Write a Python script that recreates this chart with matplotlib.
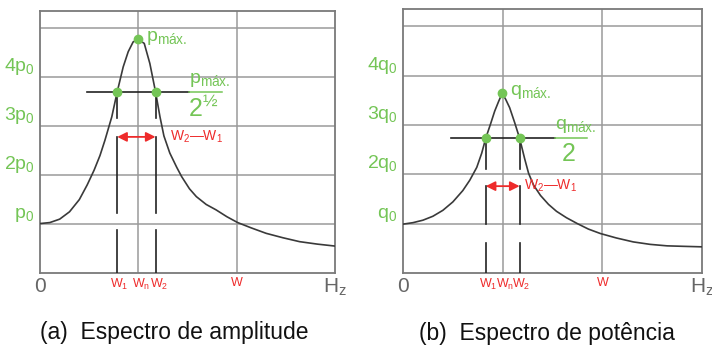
import matplotlib.pyplot as plt

plt.rcParams['font.family'] = ['Liberation Sans', 'DejaVu Sans']
plt.rcParams['mathtext.fontset'] = 'custom'
plt.rcParams['mathtext.rm'] = 'Liberation Sans'
plt.rcParams['mathtext.it'] = 'Liberation Sans'

# curve readings (x in grid units, y in multiples of p0 / q0)
amp_x = [0, 0.10, 0.20, 0.30, 0.40, 0.48, 0.55, 0.61, 0.66, 0.73, 0.785, 0.846, 0.897,
         0.947, 0.998, 1.06, 1.117, 1.175, 1.22, 1.26, 1.32, 1.39, 1.44, 1.52, 1.59, 1.69,
         1.79, 1.90, 2.01, 2.15, 2.30, 2.47, 2.64, 2.82, 3.0]
amp_y = [1.01, 1.03, 1.10, 1.25, 1.50, 1.80, 2.10, 2.40, 2.71, 3.19, 3.70, 4.21, 4.52,
         4.72, 4.77, 4.69, 4.28, 3.70, 3.19, 2.80, 2.45, 2.16, 1.97, 1.72, 1.56, 1.40,
         1.29, 1.15, 1.03, 0.92, 0.81, 0.72, 0.64, 0.59, 0.55]

pow_x = [0, 0.10, 0.20, 0.30, 0.40, 0.50, 0.60, 0.67, 0.74, 0.79, 0.83, 0.88, 0.92, 0.96,
         0.995, 1.03, 1.07, 1.12, 1.17, 1.22, 1.26, 1.31, 1.38, 1.46, 1.54, 1.64, 1.75,
         1.86, 1.98, 2.14, 2.31, 2.48, 2.65, 2.82, 3.0]
pow_y = [0.99, 1.02, 1.07, 1.15, 1.27, 1.44, 1.67, 1.88, 2.14, 2.43, 2.73, 3.03, 3.28, 3.48,
         3.64, 3.52, 3.35, 3.05, 2.73, 2.32, 2.02, 1.78, 1.57, 1.39, 1.25, 1.12, 1.00,
         0.89, 0.80, 0.71, 0.63, 0.58, 0.55, 0.54, 0.53]

amp_peak = (0.998, 4.77)
amp_half = 3.70
amp_w = (0.785, 1.175)
pow_peak = (0.995, 3.64)
pow_half = 2.74
pow_w = (0.83, 1.17)

amp_ylabels = ['p$_0$', '2p$_0$', '3p$_0$', '4p$_0$']
pow_ylabels = ['q$_0$', '2q$_0$', '3q$_0$', '4q$_0$']
xlabels = ['0', 'W$_1$', 'W$_n$', 'W$_2$', 'W', 'H$_z$']
amp_xlabel_pos = [0, 0.81, 1.03, 1.21, 2, 3]
pow_xlabel_pos = [0, 0.85, 1.02, 1.19, 2, 3]

GREEN = '#74c556'
RED = '#ee2b2b'
GRID = '#9a9a9a'


def draw_panel(ax, xs, ys, peak, half, w, ylabels, xpos, sym, frac_den, segs,
               arrow_y, diff_x, caption, cap_x):
    ax.set_xlim(0, 3)
    ax.set_ylim(0, 5.35)
    for s in ax.spines.values():
        s.set_color('#7a7a7a')
        s.set_linewidth(1.3)
    for k in range(1, 6):
        ax.axhline(k, color=GRID, lw=1.1, zorder=1)
    for k in (1, 2):
        ax.axvline(k, color=GRID, lw=1.1, zorder=1)

    ax.plot(xs, ys, color='#3a3a3a', lw=1.2, zorder=3)

    # half-power line and the two broken vertical markers
    ax.plot([0.48, 1.52], [half, half], color='#222', lw=1.2, zorder=3)
    for x in w:
        for y0, y1 in segs:
            ax.plot([x, x], [y0, y1], color='#222', lw=1.2, zorder=3)
    ax.plot([w[0], w[1], peak[0]], [half, half, peak[1]], 'o', color=GREEN, ms=6, zorder=5)

    # peak label and half-power fraction
    ax.text(peak[0] + 0.075, peak[1] + 0.02, sym + '$_{\\mathrm{máx.}}$', color=GREEN,
            fontsize=14, va='center', ha='left')
    ax.plot([1.52, 1.85], [half, half], color=GREEN, lw=1.1, zorder=3)
    ax.text(1.52, half + 0.05, sym + '$_{\\mathrm{máx.}}$', color=GREEN, fontsize=14,
            va='bottom', ha='left')
    ax.text(1.66, half - 0.08, frac_den, color=GREEN, fontsize=18, va='top', ha='center')

    # bandwidth arrow
    ax.annotate('', xy=(w[0], arrow_y), xytext=(w[1], arrow_y),
                arrowprops=dict(arrowstyle='<|-|>', color=RED, lw=1.3,
                                mutation_scale=14, shrinkA=0, shrinkB=0))
    ax.text(diff_x, arrow_y, 'W$_2$—W$_1$', color=RED, fontsize=10, va='center', ha='left')

    # axis labels
    ax.set_yticks([1, 2, 3, 4])
    ax.set_yticklabels(ylabels)
    for lab in ax.get_yticklabels():
        lab.set_color(GREEN)
        lab.set_fontsize(14)
        lab.set_verticalalignment('bottom')
    ax.tick_params(axis='y', length=0, pad=4)

    ax.set_xticks(xpos)
    ax.set_xticklabels(xlabels)
    for i, lab in enumerate(ax.get_xticklabels()):
        if i in (0, 5):
            lab.set_color('#666')
            lab.set_fontsize(15)
        else:
            lab.set_color(RED)
            lab.set_fontsize(9)
    ax.tick_params(axis='x', length=0, pad=3)

    ax.text(cap_x, -0.229, caption, transform=ax.transAxes, ha='center', va='center',
            fontsize=16.5, color='#111')


fig = plt.figure(figsize=(7.12, 3.46), dpi=100)
ax1 = fig.add_axes([0.0562, 0.211, 0.4143, 0.757])
ax2 = fig.add_axes([0.566, 0.211, 0.420, 0.763])

draw_panel(ax1, amp_x, amp_y, amp_peak, amp_half, amp_w, amp_ylabels, amp_xlabel_pos,
           'p', '2$^{½}$', [(3.70, 3.16), (2.78, 1.22), (0.88, 0)], 2.78, 1.32,
           '(a)  Espectro de amplitude', 0.456)
draw_panel(ax2, pow_x, pow_y, pow_peak, pow_half, pow_w, pow_ylabels, pow_xlabel_pos,
           'q', '2', [(2.74, 2.11), (1.76, 1.0), (0.60, 0)], 1.76, 1.21,
           '(b)  Espectro de potência', 0.48)

fig.savefig('out.png', dpi=100)
